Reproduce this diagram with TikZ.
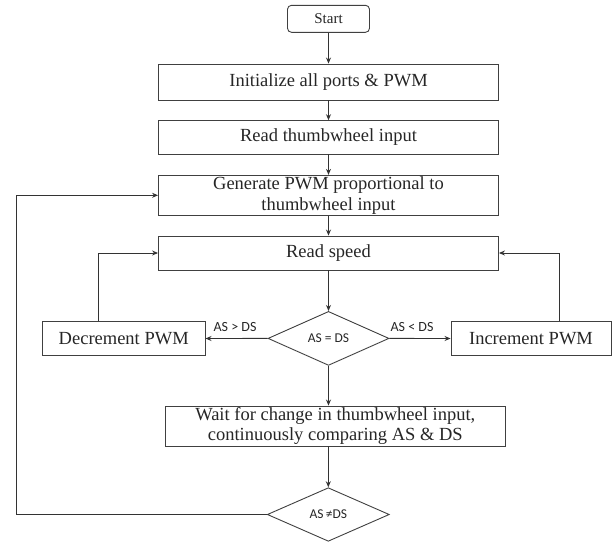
\documentclass[tikz,border=0pt]{standalone}
\usepackage{fontspec}
\setmainfont{Liberation Serif}
\newfontfamily\lblfont{Carlito}
\usetikzlibrary{shapes.geometric,arrows.meta}
\tikzset{
  box/.style={draw=black!75, line width=0.9pt, rectangle, inner sep=0pt, minimum width=340pt, align=center, font=\fontsize{18.5}{20.5}\selectfont, text=black!85},
  decbox/.style={draw=black!75, line width=0.9pt, diamond, aspect=2.3, inner sep=0pt, font=\lblfont\fontsize{13.5}{15}\selectfont, text=black!85},
  lbl/.style={font=\lblfont\fontsize{14}{15}\selectfont, text=black!85, inner sep=0pt},
  arr/.style={draw=black!80, line width=0.9pt, -{Stealth[length=6pt,width=5pt]}},
  ln/.style={draw=black!80, line width=0.9pt}
}
\begin{document}
\begin{tikzpicture}[x=1pt,y=-1pt]
\useasboundingbox (0,0) rectangle (613,542);
\node[draw=black!75, line width=0.9pt, rounded corners=4pt, minimum width=82pt, minimum height=27pt, inner sep=0pt, font=\fontsize{15}{16}\selectfont, text=black!85] (start) at (328.5,18.8) {Start};
\node[box, minimum height=36pt] (init) at (328.5,82) {Initialize all ports \& PWM};
\node[box, minimum height=33.3pt] (readtw) at (328.5,137.3) {Read thumbwheel input};
\node[box, minimum height=40pt] (gen) at (328.5,195.3) {Generate PWM proportional to\\thumbwheel input};
\node[box, minimum height=34pt] (speed) at (328.5,253) {Read speed};
\node[decbox, minimum width=121pt, minimum height=54pt] (dm1) at (328.5,338.4) {AS = DS};
\node[box, minimum width=162.7pt, minimum height=33.6pt] (dec) at (123.7,338.5) {Decrement PWM};
\node[box, minimum width=160pt, minimum height=33.6pt] (inc) at (531,338.5) {Increment PWM};
\node[box, minimum height=40pt] (wait) at (335.3,426) {Wait for change in thumbwheel input,\\continuously comparing AS \& DS};
\node[decbox, minimum width=122pt, minimum height=53.6pt] (dm2) at (328.3,514.5) {AS\,≠DS};
\coordinate (loop) at (16,514.5);
\node[lbl] (lgt) at (235,326.7) {AS > DS};
\node[lbl] (llt) at (412,326.7) {AS < DS};

\draw[arr] (start) -- (init);
\draw[arr] (init) -- (readtw);
\draw[arr] (readtw) -- (gen);
\draw[arr] (gen) -- (speed);
\draw[arr] (speed) -- (dm1);
\draw[arr] (dm1.west) -- (dec.east);
\draw[arr] (dm1.east) -- (inc.west);
\draw[arr] ([xshift=-25pt]dec.north) |- (speed.west);
\draw[arr] ([xshift=28.7pt]inc.north) |- (speed.east);
\draw[arr] (dm1.south) -- (dm1.south |- wait.north);
\draw[arr] (wait.south -| dm2.north) -- (dm2.north);
\draw[arr] (dm2.west) -- (loop) |- (gen.west);
\end{tikzpicture}
\end{document}
